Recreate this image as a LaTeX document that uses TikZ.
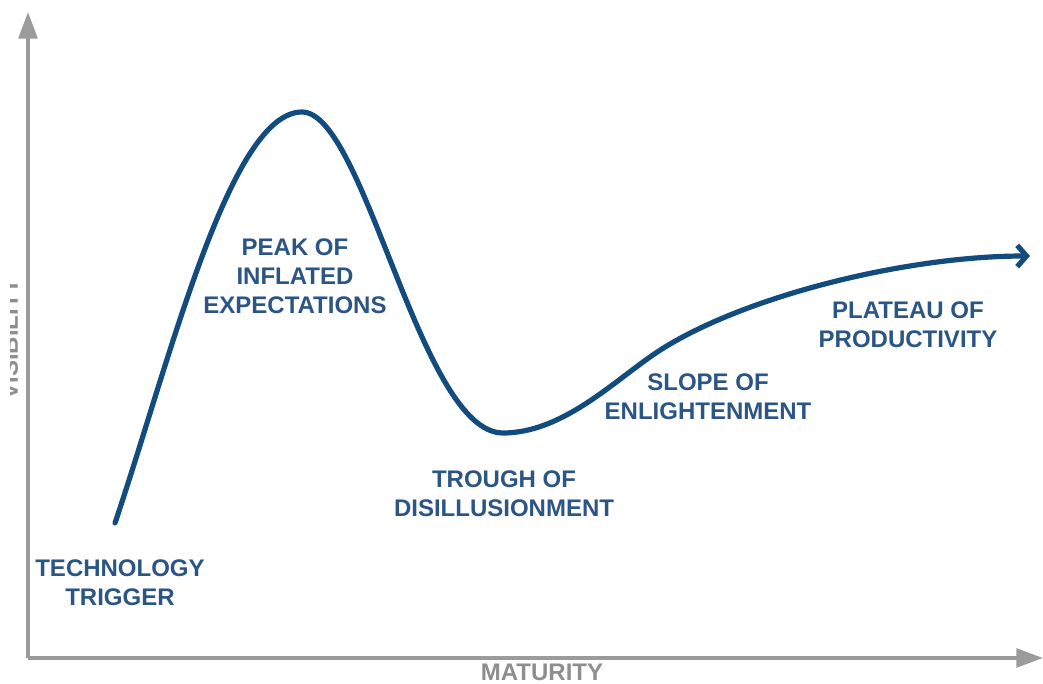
\documentclass[tikz,border=0pt]{standalone}
\usepackage{fontspec}
\setmainfont{Liberation Sans}
\usetikzlibrary{arrows.meta}

\definecolor{hypeblue}{HTML}{124C7E}
\definecolor{labelblue}{HTML}{2A5584}
\definecolor{axisgray}{HTML}{9B9B9B}
\definecolor{axistext}{HTML}{8E8E8E}

\tikzset{
  axis/.style={draw=axisgray, line width=2.8pt, -{Triangle[length=20pt,width=14pt]}},
  axislabel/.style={text=axistext, font=\bfseries\fontsize{18}{21}\selectfont, inner sep=0pt},
  phase/.style={text=labelblue, align=center, inner sep=0pt,
    font=\bfseries\fontsize{18}{21.8}\selectfont},
  hype/.style={draw=hypeblue, line width=3.9pt, line cap=round,
    -{Straight Barb[length=7pt,width=16pt]}}
}

\begin{document}
\begin{tikzpicture}[x=0.75pt, y=-0.75pt]
  \useasboundingbox (0,0) rectangle (1043,684);

  \coordinate (origin) at (28,658);
  \coordinate (ytop) at (28,12);
  \coordinate (xend) at (1043,658);

  \draw[axis] (origin) -- (ytop);
  \draw[axis] (origin) -- (xend);

  \node[axislabel] (maturity) at (542,672) {MATURITY};
  \begin{scope}
    \clip (10,250) rectangle (26,430);
    \node[axislabel, rotate=90] (visibility) at (9.5,339) {VISIBILITY};
  \end{scope}

  %% the hype curve
  \coordinate (trigger point) at (115,523);
  \coordinate (peak point) at (302,112);
  \coordinate (trough point) at (503,433);
  \coordinate (slope point) at (650,357);
  \coordinate (plateau point) at (1030,256);

  \draw[hype] (trigger point)
    .. controls (170,360) and (230,112) .. (peak point)
    .. controls (365,112) and (420,433) .. (trough point)
    .. controls (560,433) and (610,385) .. (slope point)
    .. controls (730,300) and (900,256) .. (plateau point);

  \node[phase] (trigger) at (120,583) {TECHNOLOGY\\TRIGGER};
  \node[phase] (peak) at (295,276) {PEAK OF\\INFLATED\\EXPECTATIONS};
  \node[phase] (trough) at (504,494) {TROUGH OF\\DISILLUSIONMENT};
  \node[phase] (slope) at (708,397) {SLOPE OF\\ENLIGHTENMENT};
  \node[phase] (plateau) at (908,325) {PLATEAU OF\\PRODUCTIVITY};
\end{tikzpicture}
\end{document}
